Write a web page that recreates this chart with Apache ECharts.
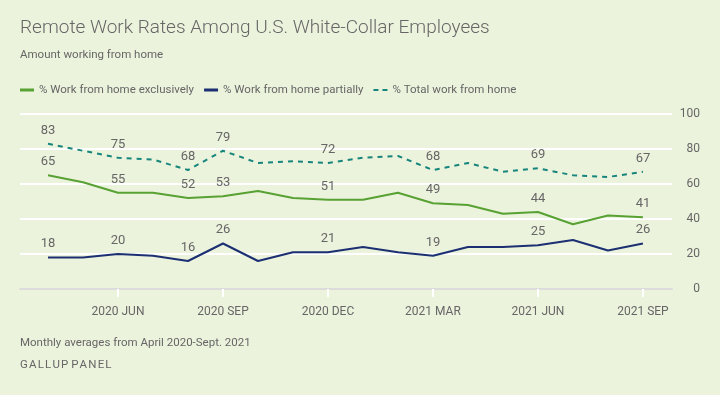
<!DOCTYPE html>
<html><head><meta charset="utf-8">
<script src="https://cdn.jsdelivr.net/npm/echarts@6/dist/echarts.min.js"></script>
<style>html,body{margin:0;padding:0;background:#ecf3dd;}#c{width:720px;height:395px;}</style>
</head><body><div id="c"></div>
<script>
const months = ['2020 APR','2020 MAY','2020 JUN','2020 JUL','2020 AUG','2020 SEP','2020 OCT','2020 NOV','2020 DEC','2021 JAN','2021 FEB','2021 MAR','2021 APR','2021 MAY','2021 JUN','2021 JUL','2021 AUG','2021 SEP'];
const tickIdx = [2,5,8,11,14,17];
const exclusive = [65,61,55,55,52,53,56,52,51,51,55,49,48,43,44,37,42,41];
const partial = [18,18,20,19,16,26,16,21,21,24,21,19,24,24,25,28,22,26];
const total = [83,79,75,74,68,79,72,73,72,75,76,68,72,67,69,65,64,67];
const labelIdx = [0,2,4,5,8,11,14,17];

const FONT = 'Roboto';
const COLORS = {ex:'#58a133', pa:'#1b2f72', to:'#16857c'};
const chart = echarts.init(document.getElementById('c'), null, {renderer:'canvas'});
function mk(name, vals, color, dashed){
  return {
    name, type:'line', data: vals.map((v,i)=>[i,v]),
    symbol:'circle', symbolSize:0, itemStyle:{color},
    lineStyle:{color, width:2, type: dashed ? [5,5] : 'solid'},
    label:{show:true, position:'top', distance:7, color:'#666', fontSize:13, fontFamily:FONT,
      formatter:p=> labelIdx.includes(p.dataIndex) ? String(p.value[1]) : ''},
    emphasis:{disabled:true}, animation:false
  };
}
chart.setOption({
  backgroundColor:'#ecf3dd',
  animation:false,
  title:[
    {text:'Remote Work Rates Among U.S. White-Collar Employees', left:20, top:19, padding:0,
     textStyle:{fontFamily:FONT, fontWeight:300, fontSize:19, color:'#666'}},
    {text:'Amount working from home', left:20, top:49, padding:0,
     textStyle:{fontFamily:FONT, fontWeight:'normal', fontSize:11.5, color:'#666'}},
    {text:'Monthly averages from April 2020-Sept. 2021', left:20, top:337, padding:0,
     textStyle:{fontFamily:FONT, fontWeight:'normal', fontSize:11.5, color:'#666'}},
    {text:'G A L L U P   P A N E L'.replace(/ /g,'\u200A').replace(/\u200A\u200A\u200A/g,' '), left:20, top:359, padding:0,
     textStyle:{fontFamily:FONT, fontWeight:'normal', fontSize:11.5, color:'#666'}}
  ],
  legend:{left:20, top:84, padding:0, itemWidth:14, itemHeight:3, itemGap:10, icon:'rect',
    textStyle:{fontFamily:FONT, fontSize:11.5, color:'#666'},
    data:[{name:'% Work from home exclusively', itemStyle:{color:COLORS.ex}},
          {name:'% Work from home partially', itemStyle:{color:COLORS.pa}},
          {name:'% Total work from home', icon:'path://M0,0h5v2h-5z M9,0h5v2h-5z', itemStyle:{color:COLORS.to}}]},
  grid:{left:20, right:48, top:114, bottom:106},
  xAxis:{type:'value', min:-0.8, max:17.83,
    axisLine:{show:true, onZero:false, lineStyle:{color:'#dcdcdc', width:2}},
    axisTick:{show:true, customValues:tickIdx, length:8, lineStyle:{color:'#ffffff', width:2}},
    axisLabel:{customValues:tickIdx, margin:17, color:'#666', fontSize:12, fontFamily:FONT,
      formatter:v=>months[v]},
    splitLine:{show:false}},
  yAxis:{type:'value', position:'right', min:0, max:100, interval:20,
    axisLine:{show:false}, axisTick:{show:false},
    axisLabel:{margin:28, align:'right', color:'#666', fontSize:12, fontFamily:FONT},
    splitLine:{show:true, lineStyle:{color:'#ffffff', width:2}}},
  series:[
    mk('% Work from home exclusively', exclusive, COLORS.ex, false),
    mk('% Work from home partially', partial, COLORS.pa, false),
    mk('% Total work from home', total, COLORS.to, true)
  ]
});
</script></body></html>
